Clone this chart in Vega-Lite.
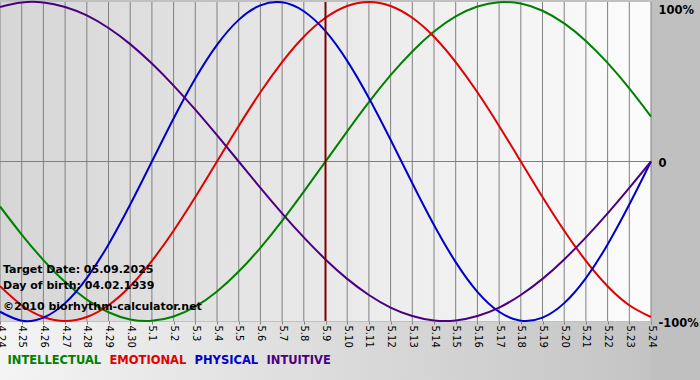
{
  "$schema": "https://vega.github.io/schema/vega-lite/v6.json",
  "autosize": "none",
  "width": 651,
  "height": 319,
  "padding": {"left": 0, "top": 2, "right": 49, "bottom": 59},
  "background": "#c0c0c0",
  "config": {"view": {"stroke": null}, "font": "DejaVu Sans"},
  "data": {"values": [
    {"date": "2025-04-24", "intellectual": -28.2, "emotional": -78.2, "physical": -94.2, "intuitive": 96.9},
    {"date": "2025-04-25", "intellectual": -45.8, "emotional": -90.1, "physical": -99.8, "intuitive": 99.7},
    {"date": "2025-04-26", "intellectual": -61.8, "emotional": -97.5, "physical": -97.9, "intuitive": 99.7},
    {"date": "2025-04-27", "intellectual": -75.6, "emotional": -100, "physical": -88.8, "intuitive": 96.9},
    {"date": "2025-04-28", "intellectual": -86.6, "emotional": -97.5, "physical": -73.1, "intuitive": 91.6},
    {"date": "2025-04-29", "intellectual": -94.5, "emotional": -90.1, "physical": -52.0, "intuitive": 83.7},
    {"date": "2025-04-30", "intellectual": -99.0, "emotional": -78.2, "physical": -27.0, "intuitive": 73.6},
    {"date": "2025-05-01", "intellectual": -99.9, "emotional": -62.3, "physical": 0, "intuitive": 61.4},
    {"date": "2025-05-02", "intellectual": -97.2, "emotional": -43.4, "physical": 27.0, "intuitive": 47.6},
    {"date": "2025-05-03", "intellectual": -91.0, "emotional": -22.3, "physical": 52.0, "intuitive": 32.5},
    {"date": "2025-05-04", "intellectual": -81.5, "emotional": 0, "physical": 73.1, "intuitive": 16.5},
    {"date": "2025-05-05", "intellectual": -69.0, "emotional": 22.3, "physical": 88.8, "intuitive": 0},
    {"date": "2025-05-06", "intellectual": -54.1, "emotional": 43.4, "physical": 97.9, "intuitive": -16.5},
    {"date": "2025-05-07", "intellectual": -37.2, "emotional": 62.3, "physical": 99.8, "intuitive": -32.5},
    {"date": "2025-05-08", "intellectual": -18.9, "emotional": 78.2, "physical": 94.2, "intuitive": -47.6},
    {"date": "2025-05-09", "intellectual": 0, "emotional": 90.1, "physical": 81.7, "intuitive": -61.4},
    {"date": "2025-05-10", "intellectual": 18.9, "emotional": 97.5, "physical": 63.1, "intuitive": -73.6},
    {"date": "2025-05-11", "intellectual": 37.2, "emotional": 100, "physical": 39.8, "intuitive": -83.7},
    {"date": "2025-05-12", "intellectual": 54.1, "emotional": 97.5, "physical": 13.6, "intuitive": -91.6},
    {"date": "2025-05-13", "intellectual": 69.0, "emotional": 90.1, "physical": -13.6, "intuitive": -96.9},
    {"date": "2025-05-14", "intellectual": 81.5, "emotional": 78.2, "physical": -39.8, "intuitive": -99.7},
    {"date": "2025-05-15", "intellectual": 91.0, "emotional": 62.3, "physical": -63.1, "intuitive": -99.7},
    {"date": "2025-05-16", "intellectual": 97.2, "emotional": 43.4, "physical": -81.7, "intuitive": -96.9},
    {"date": "2025-05-17", "intellectual": 99.9, "emotional": 22.3, "physical": -94.2, "intuitive": -91.6},
    {"date": "2025-05-18", "intellectual": 99.0, "emotional": 0, "physical": -99.8, "intuitive": -83.7},
    {"date": "2025-05-19", "intellectual": 94.5, "emotional": -22.3, "physical": -97.9, "intuitive": -73.6},
    {"date": "2025-05-20", "intellectual": 86.6, "emotional": -43.4, "physical": -88.8, "intuitive": -61.4},
    {"date": "2025-05-21", "intellectual": 75.6, "emotional": -62.3, "physical": -73.1, "intuitive": -47.6},
    {"date": "2025-05-22", "intellectual": 61.8, "emotional": -78.2, "physical": -52.0, "intuitive": -32.5},
    {"date": "2025-05-23", "intellectual": 45.8, "emotional": -90.1, "physical": -27.0, "intuitive": -16.5},
    {"date": "2025-05-24", "intellectual": 28.2, "emotional": -97.5, "physical": 0, "intuitive": 0}
  ]},
  "layer": [
    {
      "data": {"values": [{}]},
      "mark": {"type": "rect", "color": {"gradient": "linear", "x1": 0, "y1": 0, "x2": 1, "y2": 0,
        "stops": [{"offset": 0, "color": "#d6d6d6"}, {"offset": 1, "color": "#fcfcfc"}]}},
      "encoding": {
        "x": {"datum": {"year": 2025, "month": 4, "date": 24, "utc": true}, "type": "temporal",
          "scale": {"type": "utc", "nice": false, "domain": [{"year": 2025, "month": 4, "date": 24, "utc": true}, {"year": 2025, "month": 5, "date": 24, "utc": true}]}},
        "x2": {"datum": {"year": 2025, "month": 5, "date": 24, "utc": true}},
        "y": {"datum": 100, "type": "quantitative", "scale": {"domain": [-100, 100], "nice": false, "zero": false}},
        "y2": {"datum": -100}
      }
    },
    {
      "data": {"values": [{}]},
      "mark": {"type": "rect", "color": {"gradient": "linear", "x1": 0, "y1": 0, "x2": 1, "y2": 0,
        "stops": [{"offset": 0, "color": "#f4f4f4"}, {"offset": 1, "color": "#c4c4c4"}]}},
      "encoding": {
        "x": {"datum": {"year": 2025, "month": 4, "date": 24, "utc": true}, "type": "temporal"},
        "x2": {"datum": {"year": 2025, "month": 5, "date": 24, "utc": true}},
        "y": {"datum": -100.6, "type": "quantitative"},
        "y2": {"datum": -145}
      }
    },
    {
      "mark": {"type": "rule", "color": "#808080", "strokeWidth": 1},
      "encoding": {"x": {"field": "date", "type": "temporal",
        "axis": {"orient": "bottom", "labelExpr": "utcFormat(datum.value, '%-m.%-d')", "tickCount": {"interval": "day", "step": 1},
          "labelAngle": 90, "labelFontSize": 10, "labelColor": "#000000", "labelPadding": 1, "labelFont": "DejaVu Sans",
          "tickSize": 3, "tickColor": "#808080", "domain": false, "grid": false, "title": null, "zindex": 1,
          "labelFlush": false, "labelOverlap": false, "labelBound": false}}}
    },
    {
      "data": {"values": [{}]},
      "mark": {"type": "rule", "color": "#808080", "strokeWidth": 1},
      "encoding": {"y": {"datum": 0, "type": "quantitative"}}
    },
    {
      "transform": [{"fold": ["intellectual", "emotional", "physical", "intuitive"], "as": ["series", "value"]}],
      "mark": {"type": "line", "strokeWidth": 2, "interpolate": "natural"},
      "encoding": {
        "x": {"field": "date", "type": "temporal"},
        "y": {"field": "value", "type": "quantitative",
          "axis": {"orient": "right", "values": [-100, 0, 100], "labelExpr": "datum.value == 0 ? '0' : datum.value + '%'",
            "labelFontWeight": "bold", "labelFontSize": 11.5, "labelColor": "#000000", "labelPadding": 7,
            "ticks": false, "domain": false, "grid": false, "title": null, "zindex": 1,
            "labelBaseline": {"condition": {"test": "datum.value == 100", "value": "top"}, "value": "middle"},
            "labelOffset": 2, "labelFlush": false, "labelBound": false}},
        "color": {"field": "series", "type": "nominal",
          "scale": {"domain": ["intellectual", "emotional", "physical", "intuitive"],
            "range": ["#008000", "#e00000", "#0000cc", "#4b0082"]},
          "legend": {"orient": "none", "legendX": 6, "legendY": 353, "direction": "horizontal", "title": null,
            "labelExpr": "upper(datum.label)", "labelFontWeight": "bold", "labelFontSize": 11.5, "labelFont": "DejaVu Sans",
            "symbolSize": 0, "symbolOpacity": 0, "symbolStrokeWidth": 0, "labelOffset": -10, "columnPadding": 6, "padding": 0,
            "encode": {"labels": {"update": {"fill": {"scale": "color", "field": "value"}}}}}},
        "detail": {"field": "series"}
      }
    },
    {
      "data": {"values": [{}]},
      "mark": {"type": "rule", "color": "#800000", "strokeWidth": 2},
      "encoding": {"x": {"datum": {"year": 2025, "month": 5, "date": 9, "utc": true}, "type": "temporal"}}
    },
    {
      "data": {"values": [{}]},
      "mark": {"type": "text", "text": "Target Date: 05.09.2025", "align": "left", "baseline": "middle", "dx": 3, "fontWeight": "bold", "fontSize": 11, "font": "DejaVu Sans", "color": "#000000"},
      "encoding": {"x": {"datum": {"year": 2025, "month": 4, "date": 24, "utc": true}, "type": "temporal"}, "y": {"datum": -68, "type": "quantitative"}}
    },
    {
      "data": {"values": [{}]},
      "mark": {"type": "text", "text": "Day of birth: 04.02.1939", "align": "left", "baseline": "middle", "dx": 3, "fontWeight": "bold", "fontSize": 11, "font": "DejaVu Sans", "color": "#000000"},
      "encoding": {"x": {"datum": {"year": 2025, "month": 4, "date": 24, "utc": true}, "type": "temporal"}, "y": {"datum": -78, "type": "quantitative"}}
    },
    {
      "data": {"values": [{}]},
      "mark": {"type": "text", "text": "©2010 biorhythm-calculator.net", "align": "left", "baseline": "middle", "dx": 3, "fontWeight": "bold", "fontSize": 11, "font": "DejaVu Sans", "color": "#000000"},
      "encoding": {"x": {"datum": {"year": 2025, "month": 4, "date": 24, "utc": true}, "type": "temporal"}, "y": {"datum": -91, "type": "quantitative"}}
    }
  ]
}
